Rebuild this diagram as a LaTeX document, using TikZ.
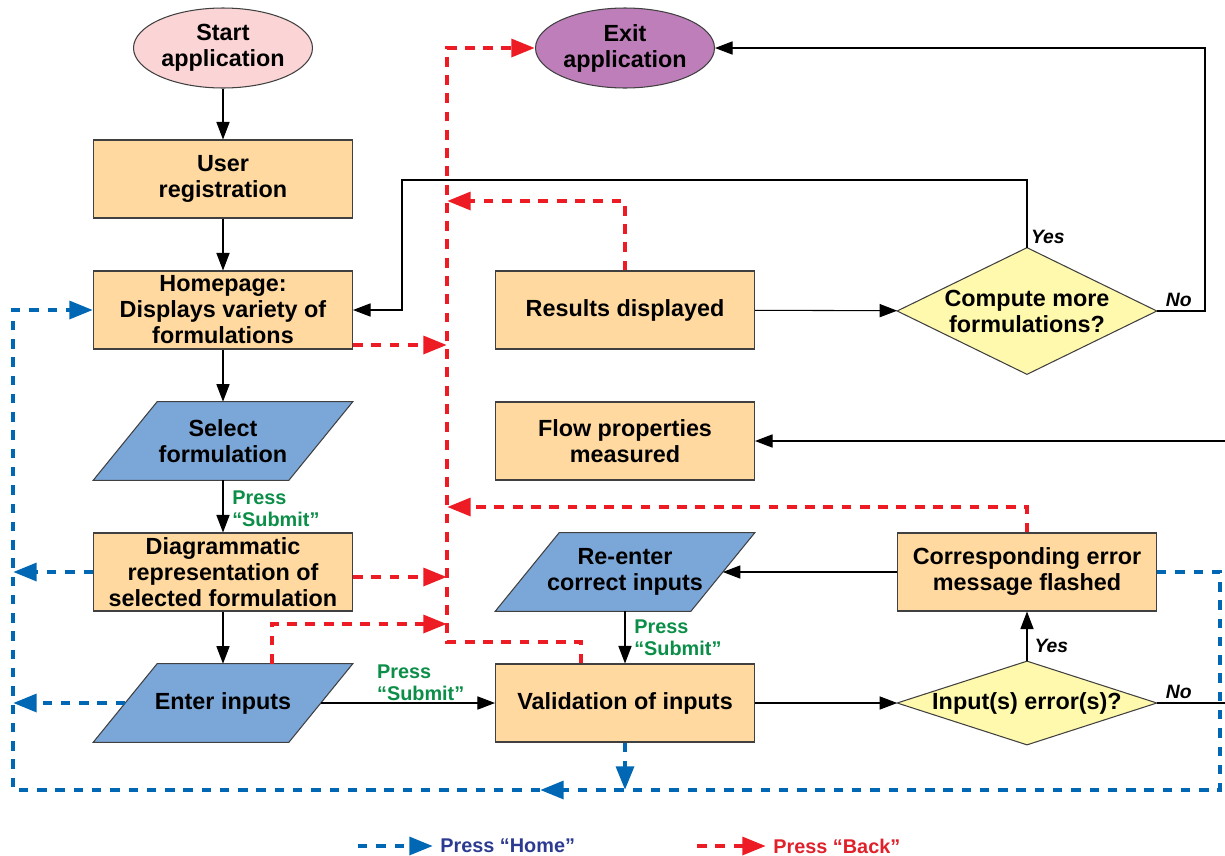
\documentclass[tikz,border=0pt]{standalone}
\usepackage{fontspec}
\setmainfont{Liberation Sans}
\usetikzlibrary{shapes.geometric, arrows.meta, backgrounds}

\definecolor{procfill}{HTML}{FFD9A0}
\definecolor{iofill}{HTML}{7BA6D8}
\definecolor{askfill}{HTML}{FFF9AE}
\definecolor{startfill}{HTML}{FBD5D5}
\definecolor{exitfill}{HTML}{BE7EB9}
\definecolor{submitgreen}{HTML}{0B8E48}
\definecolor{homeblue}{HTML}{0067B4}
\definecolor{backred}{HTML}{ED1C24}
\definecolor{hometext}{HTML}{2C3A91}
\definecolor{backtext}{HTML}{E0212A}

\begin{document}
\begin{tikzpicture}[x=0.02cm, y=-0.02cm,
    every node/.style={font=\bfseries\fontsize{13.3}{14.8}\selectfont, align=center, inner sep=0pt},
    outline/.style={draw=black!75, line width=0.6pt},
    process/.style={outline, fill=procfill, minimum width=5.18cm, minimum height=1.56cm},
    io/.style={minimum width=5.18cm, minimum height=1.56cm},
    decision/.style={minimum width=5.18cm},
    terminal/.style={ellipse, outline, minimum width=3.58cm, minimum height=1.6cm},
    arrowline/.style={line width=0.6pt, -{Triangle[length=10pt,width=7.5pt]}},
    homeline/.style={homeblue, line width=2.6pt, dash pattern=on 5.4pt off 5pt},
    backline/.style={backred, line width=2.6pt, dash pattern=on 5.6pt off 4.8pt},
    bigtip/.style={-{Triangle[length=13.5pt,width=10pt]}},
    submit/.style={font=\bfseries\fontsize{11.3}{12.6}\selectfont, text=submitgreen, align=left, inner sep=1pt},
    answer/.style={font=\bfseries\itshape\fontsize{11}{13}\selectfont, inner sep=2pt},
    keytext/.style={font=\bfseries\fontsize{11.3}{13}\selectfont, anchor=west, inner sep=4pt}]

  \useasboundingbox (0,0) rectangle (1225,856);

  % left column
  \node[terminal, fill=startfill] (start) at (223,48) {Start\\application};
  \node[process] (reg) at (223,179) {User\\registration};
  \node[process] (homepage) at (223,310) {Homepage:\\Displays variety of\\formulations};
  \node[io] (select) at (223,441) {Select\\formulation};
  \node[process] (diagram) at (223,572) {Diagrammatic\\representation of\\selected formulation};
  \node[io] (enter) at (223,703) {Enter inputs};

  % right part
  \node[terminal, fill=exitfill] (exit) at (625,48) {Exit\\application};
  \node[process] (results) at (625,310) {Results displayed};
  \node[decision, minimum height=2.52cm] (more) at (1027,311) {Compute more\\formulations?};
  \node[process] (props) at (625,441) {Flow properties\\measured};
  \node[io] (reenter) at (625,572) {Re-enter\\correct inputs};
  \node[process] (errmsg) at (1027,572) {Corresponding error\\message flashed};
  \node[process] (valid) at (625,703) {Validation of inputs};
  \node[decision, minimum height=1.66cm] (check) at (1027,703) {Input(s) error(s)?};

  \begin{scope}[on background layer]
    \foreach \n in {select, enter, reenter}
      \filldraw[outline, fill=iofill] ([xshift=1.28cm]\n.north west) -- (\n.north east)
        -- ([xshift=-1.28cm]\n.south east) -- (\n.south west) -- cycle;
    \foreach \n in {more, check}
      \filldraw[outline, fill=askfill] (\n.west) -- (\n.north) -- (\n.east) -- (\n.south) -- cycle;
  \end{scope}

  % solid connectors
  \draw[arrowline] (start) -- (reg);
  \draw[arrowline] (reg) -- (homepage);
  \draw[arrowline] (homepage) -- (select);
  \draw[arrowline] (select) -- node[submit, right=4pt, pos=.55] {Press\\“Submit”} (diagram);
  \draw[arrowline] (diagram) -- (enter);
  \draw[arrowline] ([xshift=-0.64cm]enter.east) -- node[submit, anchor=south west, pos=.31] {Press\\“Submit”} (valid);
  \draw[arrowline] (valid) -- (check);
  \draw[arrowline] (check) -- node[answer, right=2pt, pos=.3] {Yes} (errmsg);
  \draw[arrowline] (errmsg) -- ([xshift=-0.64cm]reenter.east);
  \draw[arrowline] (reenter) -- node[submit, right=4pt, pos=.5] {Press\\“Submit”} (valid);
  \draw[arrowline] (results) -- (more);
  \draw[arrowline] (more.north) node[answer, anchor=south west] {Yes} |- (402,180) |- (homepage.east);
  \draw[arrowline] (more.east) node[answer, anchor=south west, xshift=0.1cm] {No} -| (1205,48) -- (exit.east);

  \coordinate (noout) at (1225,703);
  \coordinate (propsin) at (1225,441);
  \draw[line width=0.6pt] (check.east) node[answer, anchor=south west, xshift=0.1cm] {No} -- (noout);
  \draw[arrowline] (propsin) -- (props);

  % press back
  \coordinate (spineres) at (447,201);
  \coordinate (spinehome) at (447,345);
  \coordinate (spineerr) at (447,507);
  \coordinate (spinediag) at (447,577);
  \coordinate (spineenter) at (447,624);
  \coordinate (spinebot) at (447,642);
  \draw[backline, bigtip] ([xshift=-0.88cm]valid.north) |- (spinebot) |- (exit.west);
  \draw[backline, bigtip] (homepage.east |- spinehome) -- (spinehome);
  \draw[backline, bigtip] (diagram.east |- spinediag) -- (spinediag);
  \draw[backline, bigtip] ([xshift=0.98cm]enter.north) |- (spineenter);
  \draw[backline, bigtip] (results.north) |- (spineres);
  \draw[backline, bigtip] (errmsg.north) |- (spineerr);

  % press home
  \coordinate (homeright) at (1220,790);
  \coordinate (homemid) at (540,790);
  \coordinate (homeleft) at (13,790);
  \draw[homeline, bigtip] (errmsg.east) -| (homeright) -- (homemid);
  \draw[homeline, bigtip] (homemid) -- (homeleft) |- (homepage.west);
  \draw[homeline, bigtip] (valid.south) -- (valid.south |- homemid);
  \draw[homeline, bigtip] (diagram.west) -- (diagram.west -| homeleft);
  \draw[homeline, bigtip] ([xshift=0.64cm]enter.west) -- (enter.west -| homeleft);

  % legend
  \node[keytext, text=hometext] (homekey) at (433,846) {Press “Home”};
  \node[keytext, text=backtext] (backkey) at (766,846) {Press “Back”};
  \coordinate (homekeystart) at (358,846);
  \coordinate (backkeystart) at (697,846);
  \draw[homeline, bigtip] (homekeystart) -- (homekey.west);
  \draw[backline, bigtip] (backkeystart) -- (backkey.west);
\end{tikzpicture}
\end{document}
